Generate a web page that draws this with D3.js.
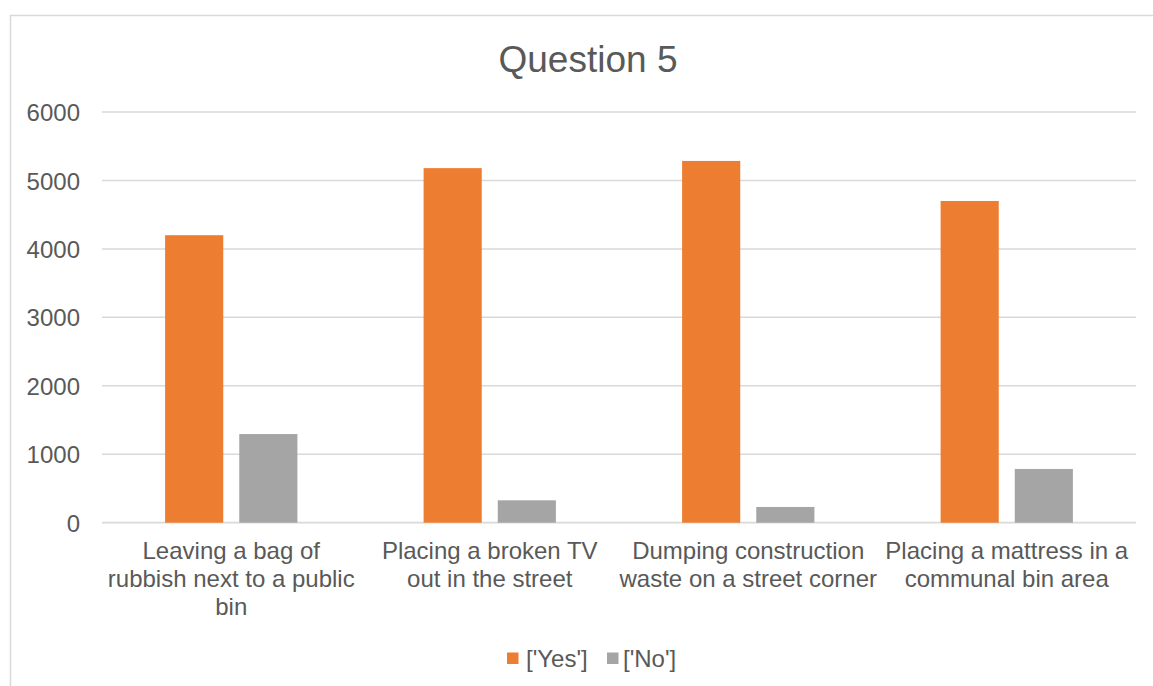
<!DOCTYPE html>
<html>
<head>
<meta charset="utf-8">
<script src="https://cdn.jsdelivr.net/npm/d3@7"></script>
<style>
  html, body { margin: 0; padding: 0; background: #fff; }
  svg { display: block; font-family: "Liberation Sans", Arial, sans-serif; }
</style>
</head>
<body>
<svg id="chart" width="1153" height="686"></svg>
<script>
const title = "Question 5";
const categories = [
  "Leaving a bag of rubbish next to a public bin",
  "Placing a broken TV out in the street",
  "Dumping construction waste on a street corner",
  "Placing a mattress in a communal bin area"
];
const categoryLines = [
  ["Leaving a bag of", "rubbish next to a public", "bin"],
  ["Placing a broken TV", "out in the street"],
  ["Dumping construction", "waste on a street corner"],
  ["Placing a mattress in a", "communal bin area"]
];
const seriesNames = ["['Yes']", "['No']"];
const yesValues = [4200, 5180, 5285, 4700];
const noValues = [1295, 327, 230, 785];
const yTicks = [0, 1000, 2000, 3000, 4000, 5000, 6000];
const colors = ["#ED7D31", "#A5A5A5"];

const svg = d3.select("#chart");
const W = 1153, H = 686;
const plot = { left: 102, right: 1136, top: 112, bottom: 522.7 };

// chart border
svg.append("rect")
  .attr("x", 10.5).attr("y", 15.5)
  .attr("width", 1170).attr("height", 700)
  .attr("fill", "#fff").attr("stroke", "#D9D9D9").attr("stroke-width", 1.5);

// title
svg.append("text")
  .attr("x", 588).attr("y", 72)
  .attr("text-anchor", "middle")
  .attr("font-size", 37).attr("fill", "#595959")
  .text(title);

const y = d3.scaleLinear().domain([0, 6000]).range([plot.bottom, plot.top]);
const x0 = d3.scaleBand().domain(categories).range([plot.left, plot.right]).paddingInner(0).paddingOuter(0);
const x1 = d3.scaleBand().domain(seriesNames).range([0, x0.bandwidth()]).paddingInner(0.216).paddingOuter(0.851);

// gridlines
svg.append("g").selectAll("line").data(yTicks).join("line")
  .attr("x1", plot.left).attr("x2", plot.right)
  .attr("y1", d => y(d)).attr("y2", d => y(d))
  .attr("stroke", "#D9D9D9").attr("stroke-width", d => d === 0 ? 1.8 : 1.5);

// y axis labels
const yAxis = d3.axisLeft(y).tickValues(yTicks).tickSize(0).tickPadding(0).tickFormat(d3.format("d"));
const yg = svg.append("g").attr("transform", "translate(80,0)").call(yAxis);
yg.select(".domain").remove();
yg.selectAll("text")
  .attr("font-family", "Liberation Sans, Arial, sans-serif")
  .attr("font-size", 24).attr("fill", "#595959").attr("dy", "0.36em");

// bars
const data = categories.map((c, i) => ({ cat: c, vals: [yesValues[i], noValues[i]] }));
const groups = svg.append("g").selectAll("g").data(data).join("g")
  .attr("transform", d => `translate(${x0(d.cat)},0)`);
groups.selectAll("rect").data(d => d.vals.map((v, j) => ({ s: seriesNames[j], v, j }))).join("rect")
  .attr("x", d => x1(d.s))
  .attr("width", x1.bandwidth())
  .attr("y", d => y(d.v))
  .attr("height", d => y(0) - y(d.v))
  .attr("fill", d => colors[d.j]);

// category labels
const xl = svg.append("g");
categories.forEach((c, i) => {
  const t = xl.append("text")
    .attr("text-anchor", "middle")
    .attr("font-size", 24).attr("fill", "#595959");
  categoryLines[i].forEach((ln, k) => {
    t.append("tspan")
      .attr("x", x0(c) + x0.bandwidth() / 2)
      .attr("y", 559 + k * 28)
      .text(ln);
  });
});

// legend
const legend = svg.append("g");
const legendItems = [
  { name: seriesNames[0], sx: 507, tx: 526 },
  { name: seriesNames[1], sx: 607, tx: 623 }
];
legendItems.forEach((it, j) => {
  legend.append("rect").attr("x", it.sx).attr("y", 652.5).attr("width", 11.5).attr("height", 11.5).attr("fill", colors[j]);
  legend.append("text").attr("x", it.tx).attr("y", 667)
    .attr("font-size", 24).attr("fill", "#595959").text(it.name);
});
</script>
</body>
</html>
